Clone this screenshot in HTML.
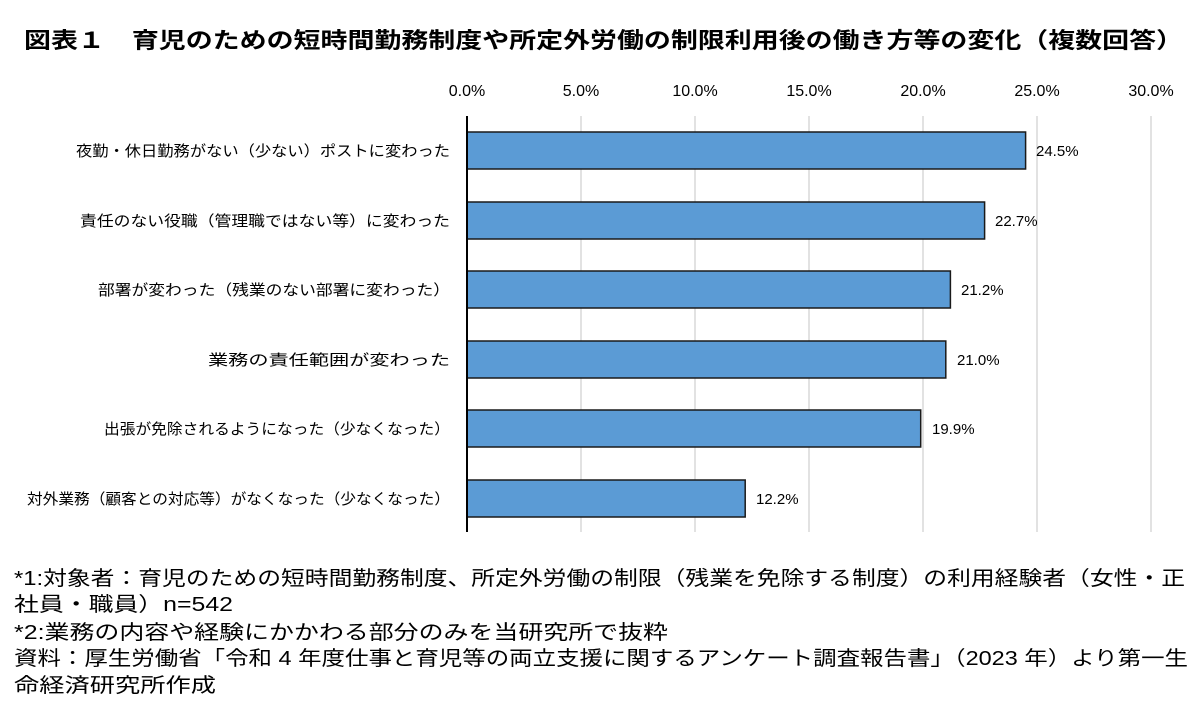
<!DOCTYPE html>
<html><head><meta charset="utf-8"><style>
html,body{margin:0;padding:0;background:#fff;}
body{width:1204px;height:716px;overflow:hidden;font-family:"Liberation Sans","Noto Sans CJK JP",sans-serif;}
</style></head><body>
<svg width="1204" height="716" xmlns="http://www.w3.org/2000/svg" font-family="Liberation Sans, Noto Sans CJK JP, sans-serif">
<text x="24" y="48" font-size="22" font-weight="bold" fill="#000" textLength="1159" lengthAdjust="spacingAndGlyphs">図表１　育児のための短時間勤務制度や所定外労働の制限利用後の働き方等の変化（複数回答）</text>
<g stroke="#d9d9d9" stroke-width="1.5">
<line x1="581" y1="116" x2="581" y2="532"/><line x1="695" y1="116" x2="695" y2="532"/>
<line x1="809" y1="116" x2="809" y2="532"/><line x1="923" y1="116" x2="923" y2="532"/>
<line x1="1037" y1="116" x2="1037" y2="532"/><line x1="1151" y1="116" x2="1151" y2="532"/>
</g>
<g font-size="16" fill="#000" text-anchor="middle">
<text x="467" y="96">0.0%</text><text x="581" y="96">5.0%</text><text x="695" y="96">10.0%</text>
<text x="809" y="96">15.0%</text><text x="923" y="96">20.0%</text><text x="1037" y="96">25.0%</text><text x="1151" y="96">30.0%</text>
</g>
<g fill="#5b9bd5" stroke="#1a1a1a" stroke-width="1.5">
<rect x="467" y="132" width="558.6" height="37"/>
<rect x="467" y="202" width="517.6" height="37"/>
<rect x="467" y="271" width="483.4" height="37"/>
<rect x="467" y="341" width="478.8" height="37"/>
<rect x="467" y="410" width="453.7" height="37"/>
<rect x="467" y="480" width="278.2" height="37"/>
</g>
<line x1="467" y1="116" x2="467" y2="532" stroke="#000" stroke-width="2"/>
<g font-size="15" fill="#000">
<text x="1036" y="156">24.5%</text><text x="995" y="226">22.7%</text><text x="961" y="295">21.2%</text>
<text x="957" y="365">21.0%</text><text x="932" y="434">19.9%</text><text x="756" y="504">12.2%</text>
</g>
<g font-size="15" fill="#000" lengthAdjust="spacingAndGlyphs">
<text x="76" y="156" textLength="374" lengthAdjust="spacingAndGlyphs">夜勤・休日勤務がない（少ない）ポストに変わった</text>
<text x="80" y="226" textLength="370" lengthAdjust="spacingAndGlyphs">責任のない役職（管理職ではない等）に変わった</text>
<text x="98" y="295" textLength="352" lengthAdjust="spacingAndGlyphs">部署が変わった（残業のない部署に変わった）</text>
<text x="208" y="365" textLength="242" lengthAdjust="spacingAndGlyphs">業務の責任範囲が変わった</text>
<text x="104" y="434" textLength="346" lengthAdjust="spacingAndGlyphs">出張が免除されるようになった（少なくなった）</text>
<text x="27" y="504" textLength="423" lengthAdjust="spacingAndGlyphs">対外業務（顧客との対応等）がなくなった（少なくなった）</text>
</g>
<g font-size="20" fill="#000">
<text x="14" y="585" textLength="1171" lengthAdjust="spacingAndGlyphs">*1:対象者：育児のための短時間勤務制度、所定外労働の制限（残業を免除する制度）の利用経験者（女性・正</text>
<text x="14" y="611" textLength="219" lengthAdjust="spacingAndGlyphs">社員・職員）n=542</text>
<text x="14" y="639" textLength="654" lengthAdjust="spacingAndGlyphs">*2:業務の内容や経験にかかわる部分のみを当研究所で抜粋</text>
<text x="14" y="665" textLength="1174" lengthAdjust="spacingAndGlyphs">資料：厚生労働省「令和 4 年度仕事と育児等の両立支援に関するアンケート調査報告書」（2023 年）より第一生</text>
<text x="14" y="692" textLength="202" lengthAdjust="spacingAndGlyphs">命経済研究所作成</text>
</g>
</svg>
</body></html>
